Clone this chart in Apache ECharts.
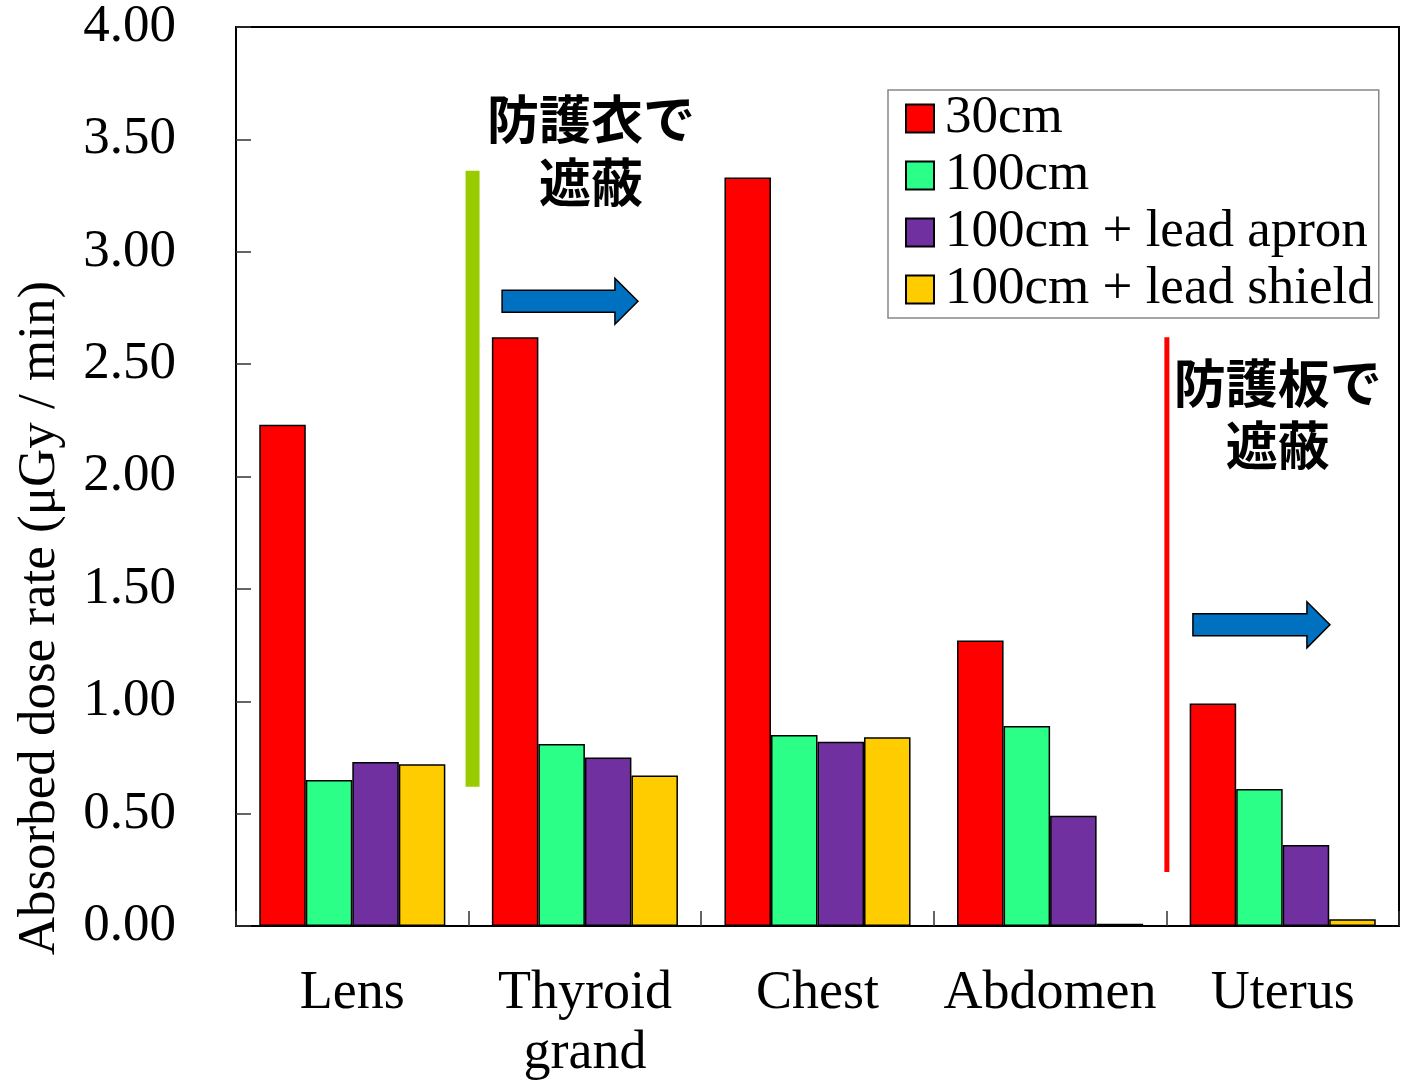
<!DOCTYPE html>
<html>
<head>
<meta charset="utf-8">
<script src="https://cdn.jsdelivr.net/npm/echarts@6/dist/echarts.min.js"></script>
<style>
  html, body { margin: 0; padding: 0; background: #fff; overflow: hidden; }
  #chart { width: 1408px; height: 1084px; }
</style>
</head>
<body>
<div id="chart"></div>
<script>
// Absorbed dose rate by organ (µGy / min)
const categories = ['Lens', 'Thyroid\ngrand', 'Chest', 'Abdomen', 'Uterus'];
const seriesNames = ['30cm', '100cm', '100cm + lead apron', '100cm + lead shield'];
const dose30cm = [2.23, 2.62, 3.33, 1.27, 0.99];
const dose100cm = [0.65, 0.81, 0.85, 0.89, 0.61];
const dose100cmApron = [0.73, 0.75, 0.82, 0.49, 0.36];
const dose100cmShield = [0.72, 0.67, 0.84, 0.01, 0.03];
const yTicks = [0, 0.5, 1, 1.5, 2, 2.5, 3, 3.5, 4];

const colors = ['#FF0000', '#2CFF87', '#7030A0', '#FFCC00'];
const serif = 'Liberation Serif';
const cjk = 'Noto Sans CJK JP';

const chart = echarts.init(document.getElementById('chart'));

const seriesData = [dose30cm, dose100cm, dose100cmApron, dose100cmShield];

chart.setOption({
  animation: false,
  backgroundColor: '#fff',
  grid: {
    left: 236, width: 1163, top: 27, height: 905,
    show: true, borderColor: '#000', borderWidth: 2, backgroundColor: 'transparent'
  },
  legend: {
    orient: 'vertical',
    left: 888, top: 90,
    padding: [0, 5, 0, 17],
    itemWidth: 28, itemHeight: 28, itemGap: 0,
    backgroundColor: '#fff',
    borderColor: '#888', borderWidth: 1.5,
    icon: 'rect',
    itemStyle: { borderColor: '#000', borderWidth: 2 },
    textStyle: { fontFamily: serif, fontSize: 53, color: '#000', lineHeight: 57, padding: [0, 0, 0, 6] },
    data: seriesNames
  },
  xAxis: {
    type: 'category',
    data: categories,
    axisLine: { lineStyle: { color: '#000', width: 2 } },
    axisTick: { show: true, inside: true, length: 15, alignWithLabel: false, lineStyle: { color: '#333', width: 1.5 } },
    axisLabel: { fontFamily: serif, fontSize: 54, color: '#000', margin: 38, lineHeight: 60, interval: 0 }
  },
  yAxis: {
    type: 'value',
    min: yTicks[0], max: yTicks[yTicks.length - 1], interval: 0.5,
    axisLine: { show: true, lineStyle: { color: '#000', width: 2 } },
    axisTick: { show: true, inside: true, length: 15, lineStyle: { color: '#333', width: 1.5 } },
    splitLine: { show: false },
    axisLabel: { fontFamily: serif, fontSize: 53, color: '#000', margin: 60, formatter: v => v.toFixed(2) }
  },
  series: seriesNames.map((name, i) => ({
    name,
    type: 'bar',
    data: seriesData[i],
    barGap: '0%',
    barCategoryGap: '20%',
    itemStyle: { color: colors[i], borderColor: '#000', borderWidth: 1.5 }
  }))
});

// Annotation layer, placed in axis coordinates (fractional category index, dose value)
const xPix = c => {
  const p0 = chart.convertToPixel({ xAxisIndex: 0 }, 0);
  const p1 = chart.convertToPixel({ xAxisIndex: 0 }, 1);
  return p0 + c * (p1 - p0);
};
const yPix = v => chart.convertToPixel({ yAxisIndex: 0 }, v);

function arrow(cStart, cEnd, v) {
  const x0 = xPix(cStart), x1 = xPix(cEnd), y = yPix(v);
  const shaft = 11, head = 23, headLen = 23;
  return {
    type: 'polygon',
    shape: { points: [
      [x0, y - shaft], [x1 - headLen, y - shaft], [x1 - headLen, y - head],
      [x1, y], [x1 - headLen, y + head], [x1 - headLen, y + shaft], [x0, y + shaft]
    ] },
    style: { fill: '#0070C0', stroke: '#000', lineWidth: 1.5 },
    z: 10
  };
}

function vbar(c, v0, v1, width, color) {
  const x = xPix(c);
  return {
    type: 'line',
    shape: { x1: x, y1: yPix(v0), x2: x, y2: yPix(v1) },
    style: { stroke: color, lineWidth: width },
    z: 10
  };
}

function label(c, v, text) {
  return {
    type: 'text',
    x: xPix(c), y: yPix(v),
    style: {
      text, fill: '#000', font: `bold 52px "${cjk}"`,
      align: 'center', verticalAlign: 'middle'
    },
    z: 11
  };
}

const axisTitle = {
  type: 'text',
  x: 40, y: yPix(1.37),
  rotation: Math.PI / 2,
  style: {
    text: 'Absorbed dose rate (μGy / min)',
    fill: '#000', font: `53px "${serif}"`,
    align: 'center', verticalAlign: 'middle'
  }
};

chart.setOption({
  graphic: [
    axisTitle,
    vbar(0.517, 0.62, 3.36, 14, '#99CC00'),
    vbar(3.502, 0.24, 2.62, 5, '#FF0000'),
    arrow(0.644, 1.228, 2.78),
    arrow(3.614, 4.203, 1.34),
    label(1.026, 3.59, '防護衣で'),
    label(1.026, 3.31, '遮蔽'),
    label(3.979, 2.416, '防護板で'),
    label(3.979, 2.14, '遮蔽')
  ]
});
</script>
</body>
</html>
